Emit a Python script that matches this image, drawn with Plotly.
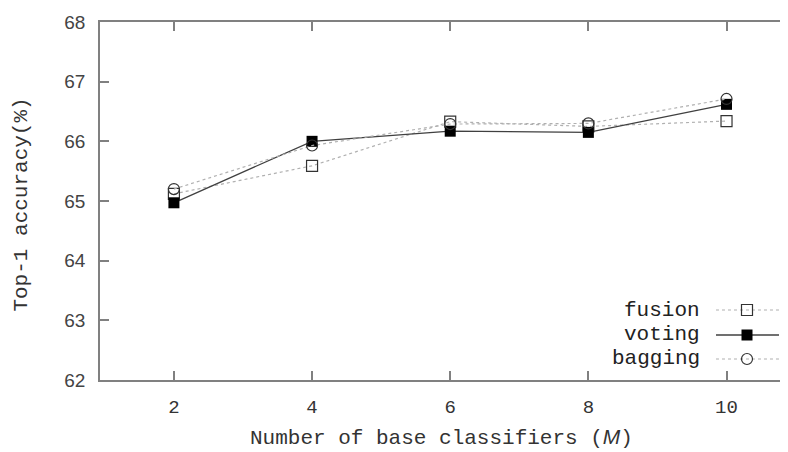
import plotly.graph_objects as go

M_values = [2, 4, 6, 8, 10]
fusion = [65.12, 65.59, 66.33, 66.25, 66.34]
voting = [64.97, 66.00, 66.17, 66.15, 66.62]
bagging = [65.20, 65.93, 66.29, 66.30, 66.71]
y_ticks = [62, 63, 64, 65, 66, 67, 68]
series_names = ["fusion", "voting", "bagging"]

MONO = "Liberation Mono, Courier New, monospace"
SANS = "Liberation Sans, Arial, sans-serif"

styles = {
    "fusion": dict(line=dict(color="#b0b0b0", width=1.2, dash="dot"),
                   marker=dict(symbol="square-open", size=11, color="#333", line=dict(width=1.2))),
    "voting": dict(line=dict(color="#404040", width=1.3, dash="solid"),
                   marker=dict(symbol="square", size=11, color="#000", line=dict(width=0))),
    "bagging": dict(line=dict(color="#b0b0b0", width=1.2, dash="dot"),
                    marker=dict(symbol="circle-open", size=11, color="#333", line=dict(width=1.2))),
}
data = {"fusion": fusion, "voting": voting, "bagging": bagging}

fig = go.Figure()
for name in series_names:
    fig.add_trace(go.Scatter(x=M_values, y=data[name], mode="lines+markers", name=name,
                             showlegend=False, **styles[name]))

# manual legend (text on the left, sample on the right), on a hidden overlay axis
leg_y = [0.1955, 0.1257, 0.0587]
for name, ly in zip(series_names, leg_y):
    fig.add_trace(go.Scatter(x=[0.8953, 0.9869], y=[ly, ly], mode="lines", xaxis="x2", yaxis="y2",
                             line=styles[name]["line"], showlegend=False, hoverinfo="skip"))
    fig.add_trace(go.Scatter(x=[0.9404], y=[ly], mode="markers", xaxis="x2", yaxis="y2",
                             marker=styles[name]["marker"], showlegend=False, hoverinfo="skip"))
    fig.add_annotation(x=0.875, y=ly, xref="x2 domain", yref="y2 domain", text=name,
                       showarrow=False, xanchor="right", yanchor="middle",
                       font=dict(family=MONO, size=21, color="#222"))

# axis titles
fig.add_annotation(x=0.497, y=0, xref="paper", yref="paper", yshift=-57,
                   text="Number of base classifiers (<span style='font-family:Liberation Sans'><i>M</i></span>)",
                   showarrow=False, xanchor="center", yanchor="middle",
                   font=dict(family=MONO, size=21, color="#333"))
fig.add_annotation(x=0, y=0.49, xref="paper", yref="paper", xshift=-78, textangle=-90,
                   text="Top-1 accuracy(%)",
                   showarrow=False, xanchor="center", yanchor="middle",
                   font=dict(family=MONO, size=21, color="#333"))

fig.update_layout(
    width=780, height=444,
    margin=dict(l=92, r=0, t=14, b=72, autoexpand=False),
    paper_bgcolor="white", plot_bgcolor="white",
    xaxis=dict(range=[0.93, 10.89], tickvals=M_values, ticktext=[str(v) for v in M_values],
               ticks="inside", ticklen=9, tickcolor="#808080", tickwidth=1.5,
               showline=True, linecolor="#808080", linewidth=1.6, mirror="ticks",
               showgrid=False, zeroline=False, automargin=False, ticklabelstandoff=8,
               tickfont=dict(family=MONO, size=19, color="#333")),
    yaxis=dict(range=[62, 68], tickvals=y_ticks, ticks="inside", ticklen=9, tickcolor="#808080", tickwidth=1.5,
               showline=True, linecolor="#808080", linewidth=1.6, mirror=False,
               showgrid=False, zeroline=False, automargin=False, ticklabelstandoff=9,
               tickfont=dict(family=SANS, size=19, color="#444")),
    xaxis2=dict(range=[0, 1], overlaying="x", visible=False, domain=[0, 1]),
    yaxis2=dict(range=[0, 1], overlaying="y", visible=False),
)

fig.write_html("out.html")
